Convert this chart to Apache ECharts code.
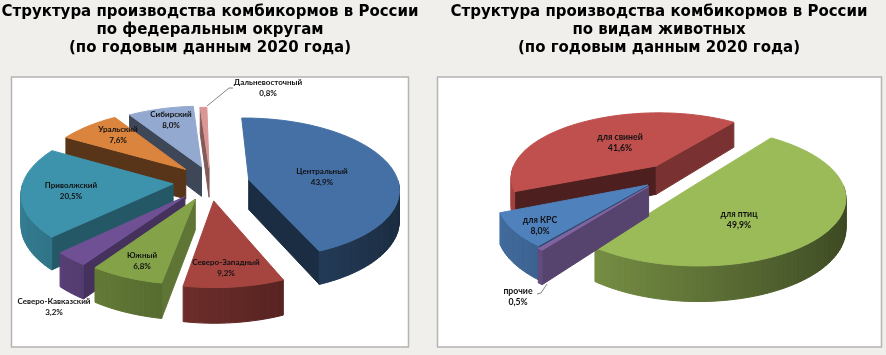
<!DOCTYPE html>
<html>
<head>
<meta charset="utf-8">
<style>html,body{margin:0;padding:0;background:#f0efeb}#main{width:886px;height:355px}</style>
<script src="https://cdn.jsdelivr.net/npm/echarts@6/dist/echarts.min.js"></script>
</head>
<body>
<div id="main"></div>
<script>
// data
var districtNames = ['Центральный', 'Северо-Западный', 'Южный', 'Северо-Кавказский', 'Приволжский', 'Уральский', 'Сибирский', 'Дальневосточный'];
var districtValues = [43.9, 9.2, 6.8, 3.2, 20.5, 7.6, 8.0, 0.8];
var animalNames = ['для птиц', 'прочие', 'для КРС', 'для свиней'];
var animalValues = [49.9, 0.5, 8.0, 41.6];
var leftTitle = 'Структура производства комбикормов в России\nпо федеральным округам\n(по годовым данным 2020 года)';
var rightTitle = 'Структура производства комбикормов в России\nпо видам животных\n(по годовым данным 2020 года)';

// look of the two fake 3d pies
var leftPie = {
	cx: 205, cy: 178, rx: 150, ry: 70, k: 0.12, depth: 30, start: -1, labelSize: 8,
	explode: [0.30, 0.33, 0.30, 0.32, 0.22, 0.18, 0.14, 0.15],
	shift: [[0, 6], [3, -1], [8, 1], [12, 1], [1, 4], [0, 0], [3, -2], [5, 0]],
	colors: ['#4470a6', '#a64440', '#84a349', '#6f5094', '#3d93ac', '#db843d', '#93a9cf', '#d99694'],
	startShade: [0.4, 0.5, 0.72, 0.62, 0.6, 0.4, 0.42, 0.6],
	endShade: [0.4, 0.5, 0.6, 0.6, 0.6, 0.4, 0.4, 0.6],
	labels: [[322, 172], [226, 263], [142, 256], [54, 302], [71, 186], [118, 130], [171, 115], [268, 83]]
};
var rightPie = {
	cx: 662, cy: 182, rx: 146, ry: 65, k: 0.17, depth: 29, start: 37, labelSize: 8.7,
	explode: [0.15, 0.18, 0.15, 0.18],
	shift: [[15, -3], [3, -5], [3.5, -3], [10, -7]],
	colors: ['#9bbb59', '#8064a2', '#4f81bd', '#c0504d'],
	startShade: [0.6, 0.68, 0.55, 0.4],
	endShade: [0.6, 0.6, 0.6, 0.63],
	labels: [[739, 215], [518, 292], [540, 221], [620, 138]]
};

var myChart = echarts.init(document.getElementById('main'));

function shade(hex, f) {
	var n = parseInt(hex.slice(1), 16);
	var r = Math.round((n >> 16) * f), g = Math.round(((n >> 8) & 255) * f), b = Math.round((n & 255) * f);
	return 'rgb(' + r + ',' + g + ',' + b + ')';
}

function pieSeries(names, values, pie) {
	var total = 0;
	for (var i = 0; i < values.length; i++) total += values[i];
	return {
		type: 'custom',
		coordinateSystem: 'none',
		silent: true,
		animation: false,
		data: values.map(function (v) { return [v]; }),
		renderItem: function (params, api) {
			var idx = params.dataIndex;
			var before = 0;
			for (var j = 0; j < idx; j++) before += values[j];
			var a0 = pie.start + before / total * 360;
			var a1 = a0 + api.value(0) / total * 360;
			var mid = (a0 + a1) / 2 * Math.PI / 180;
			var e = pie.explode[idx];
			var ou = e * Math.sin(mid), ov = e * Math.cos(mid);
			var shift = pie.shift[idx];

			function pt(deg, r, h) {
				var t = deg * Math.PI / 180;
				var u = ou + r * Math.sin(t), v = ov + r * Math.cos(t);
				var w = 1 / (1 + pie.k * v);
				return [pie.cx + shift[0] + pie.rx * u * w, pie.cy + shift[1] - pie.ry * v * w + h * pie.depth * w];
			}
			function poly(points, fill, z2) {
				return { type: 'polygon', z2: z2, shape: { points: points }, style: { fill: fill, stroke: fill, lineWidth: 1 } };
			}

			// far slices are painted first
			var base = Math.round((1 - Math.cos(mid)) * 100) * 10;
			var color = pie.colors[idx];
			var children = [];

			if (Math.sin(a0 * Math.PI / 180) < -0.05) {
				children.push(poly([pt(a0, 0, 0), pt(a0, 1, 0), pt(a0, 1, 1), pt(a0, 0, 1)], shade(color, pie.startShade[idx]), base));
			}
			if (Math.sin(a1 * Math.PI / 180) > 0.05) {
				children.push(poly([pt(a1, 0, 0), pt(a1, 1, 0), pt(a1, 1, 1), pt(a1, 0, 1)], shade(color, pie.endShade[idx]), base));
			}
			// outer wall as thin strips, darker to the right, near half only
			for (var d = a0; d < a1; d += 2) {
				var d2 = Math.min(d + 2, a1);
				var dm = (d + d2) / 2 * Math.PI / 180;
				if (Math.cos(dm) > 0) continue;
				var f = 0.85 - 0.47 * (Math.sin(dm) + 1) / 2;
				children.push(poly([pt(d, 1, 0), pt(d2, 1, 0), pt(d2, 1, 1), pt(d, 1, 1)], shade(color, f), base + 1));
			}
			var top = [pt(a0, 0, 0)];
			for (var c = a0; c < a1; c += 2) top.push(pt(c, 1, 0));
			top.push(pt(a1, 1, 0));
			children.push(poly(top, color, base + 2));

			children.push({
				type: 'text',
				z2: 5000,
				style: {
					text: names[idx] + '\n' + api.value(0).toFixed(1).replace('.', ',') + '%',
					x: pie.labels[idx][0],
					y: pie.labels[idx][1] - 6,
					align: 'center',
					verticalAlign: 'top',
					lineHeight: 11,
					fill: '#111',
					font: 'bold ' + pie.labelSize + 'px Lato'
				}
			});
			return { type: 'group', children: children };
		}
	};
}

function panel(x, y, w, h) {
	return { type: 'rect', z: -1, shape: { x: x, y: y, width: w, height: h }, style: { fill: '#fff', stroke: '#b4b4b4', lineWidth: 1.5 } };
}
function leader(points) {
	return { type: 'polyline', z: 10, shape: { points: points }, style: { fill: null, stroke: '#666', lineWidth: 0.8 } };
}

var titleFont = { fontFamily: 'DejaVu Sans', fontWeight: 'bold', fontSize: 15, lineHeight: 18, color: '#000', align: 'center' };

myChart.setOption({
	backgroundColor: '#f0efeb',
	animation: false,
	title: [
		{ text: leftTitle, left: 210, top: 3, textAlign: 'center', padding: 0, textStyle: titleFont },
		{ text: rightTitle, left: 659, top: 3, textAlign: 'center', padding: 0, textStyle: titleFont }
	],
	graphic: [
		panel(11.5, 77, 397, 270),
		panel(437.5, 77, 444, 270),
		leader([[207, 106], [229, 88], [233, 88]]),
		leader([[547, 284], [541, 293], [537, 294]])
	],
	series: [
		pieSeries(districtNames, districtValues, leftPie),
		pieSeries(animalNames, animalValues, rightPie)
	]
});
</script>
</body>
</html>
